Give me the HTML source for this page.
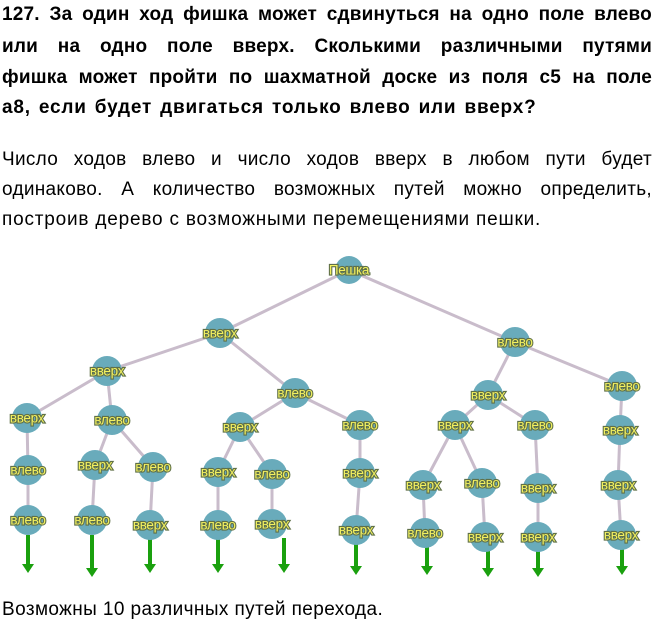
<!DOCTYPE html>
<html><head><meta charset="utf-8"><style>
body{margin:0;width:655px;height:627px;background:#fff;overflow:hidden;position:relative;font-family:"Liberation Sans","DejaVu Sans",sans-serif;color:#000}
.l{position:absolute;left:2px;width:650px;white-space:nowrap;text-align:justify;text-align-last:justify;line-height:22px}
.t{font-weight:bold;font-size:19px;letter-spacing:0.2px}
.b{font-size:19px;letter-spacing:0.3px}
svg{position:absolute;left:0;top:0}
svg text{font-family:"Liberation Sans",sans-serif;font-size:13.5px;fill:#f2f060;stroke:#5f7048;stroke-width:2.2;paint-order:stroke;text-anchor:middle;dominant-baseline:central;letter-spacing:-0.3px}
</style></head><body>
<div class="l t" style="top:4px">127. За один ход фишка может сдвинуться на одно поле влево</div>
<div class="l t" style="top:36px">или на одно поле вверх. Сколькими различными путями</div>
<div class="l t" style="top:67px">фишка может пройти по шахматной доске из поля с5 на поле</div>
<div class="l t" style="top:97px;text-align-last:left;letter-spacing:0.8px;word-spacing:2px">а8, если будет двигаться только влево или вверх?</div>
<div class="l b" style="top:149px">Число ходов влево и число ходов вверх в любом пути будет</div>
<div class="l b" style="top:179px">одинаково. А количество возможных путей можно определить,</div>
<div class="l b" style="top:209px;text-align-last:left;letter-spacing:0.8px">построив дерево с возможными перемещениями пешки.</div>
<div class="l b" style="top:599px;text-align-last:left;letter-spacing:0.4px">Возможны 10 различных путей перехода.</div>
<svg width="655" height="627" viewBox="0 0 655 627">
<g stroke="#c9bccb" stroke-width="3" fill="none">
<path d="M349 270L220 333M349 270L515 342M220 333L107 371M220 333L295 393M107 371L27 418M107 371L112 420M27 418L28 470L28 520M112 420L95 465L92 520M112 420L153 467L150 525M295 393L240 427M295 393L360 425M240 427L218 472L218 525M240 427L272 474L272 524M360 425L360 473L356 530M515 342L488 395M515 342L622 386M488 395L455 425M488 395L535 425M455 425L423 485L425 533M455 425L482 483L485 537M535 425L538 488L538 537M622 386L620 430L618 485L621 535"/>
</g>
<g stroke="#1aa00e" stroke-width="4" fill="#1aa00e">
<path d="M28 535V566M92 535V570M150 538V566M218 538V566M284 538V566M356 543V568M427 546V568M488 550V570M538 550V570M622 548V568"/>
</g>
<g fill="#1aa00e">
<path d="M22 564h12l-6 9z M86 568h12l-6 9z M144 564h12l-6 9z M212 564h12l-6 9z M278 564h12l-6 9z M350 566h12l-6 9z M421 566h12l-6 9z M482 568h12l-6 9z M532 568h12l-6 9z M616 566h12l-6 9z"/>
</g>
<g fill="#69abbb">
<circle cx="349" cy="270" r="14"/><circle cx="220" cy="333" r="15"/><circle cx="515" cy="342" r="15"/>
<circle cx="107" cy="371" r="15"/><circle cx="295" cy="393" r="15"/><circle cx="27" cy="418" r="15"/><circle cx="112" cy="420" r="15"/>
<circle cx="28" cy="470" r="15"/><circle cx="28" cy="520" r="15"/><circle cx="95" cy="465" r="15"/><circle cx="92" cy="520" r="15"/>
<circle cx="153" cy="467" r="15"/><circle cx="150" cy="525" r="15"/><circle cx="240" cy="427" r="15"/><circle cx="218" cy="472" r="15"/>
<circle cx="218" cy="525" r="15"/><circle cx="272" cy="474" r="15"/><circle cx="272" cy="524" r="15"/><circle cx="360" cy="425" r="15"/>
<circle cx="360" cy="473" r="15"/><circle cx="356" cy="530" r="15"/><circle cx="488" cy="395" r="15"/><circle cx="622" cy="386" r="15"/>
<circle cx="455" cy="425" r="15"/><circle cx="535" cy="425" r="15"/><circle cx="423" cy="485" r="15"/><circle cx="482" cy="483" r="15"/>
<circle cx="425" cy="533" r="15"/><circle cx="485" cy="537" r="15"/><circle cx="538" cy="488" r="15"/><circle cx="538" cy="537" r="15"/>
<circle cx="620" cy="430" r="15"/><circle cx="618" cy="485" r="15"/><circle cx="621" cy="535" r="15"/>
</g>
<g>
<text x="349" y="270">Пешка</text><text x="220" y="333">вверх</text><text x="515" y="342">влево</text>
<text x="107" y="371">вверх</text><text x="295" y="393">влево</text><text x="27" y="418">вверх</text><text x="112" y="420">влево</text>
<text x="28" y="470">влево</text><text x="28" y="520">влево</text><text x="95" y="465">вверх</text><text x="92" y="520">влево</text>
<text x="153" y="467">влево</text><text x="150" y="525">вверх</text><text x="240" y="427">вверх</text><text x="218" y="472">вверх</text>
<text x="218" y="525">влево</text><text x="272" y="474">влево</text><text x="272" y="524">вверх</text><text x="360" y="425">влево</text>
<text x="360" y="473">вверх</text><text x="356" y="530">вверх</text><text x="488" y="395">вверх</text><text x="622" y="386">влево</text>
<text x="455" y="425">вверх</text><text x="535" y="425">влево</text><text x="423" y="485">вверх</text><text x="482" y="483">влево</text>
<text x="425" y="533">влево</text><text x="485" y="537">вверх</text><text x="538" y="488">вверх</text><text x="538" y="537">вверх</text>
<text x="620" y="430">вверх</text><text x="618" y="485">вверх</text><text x="621" y="535">вверх</text>
</g>
</svg>
</body></html>
